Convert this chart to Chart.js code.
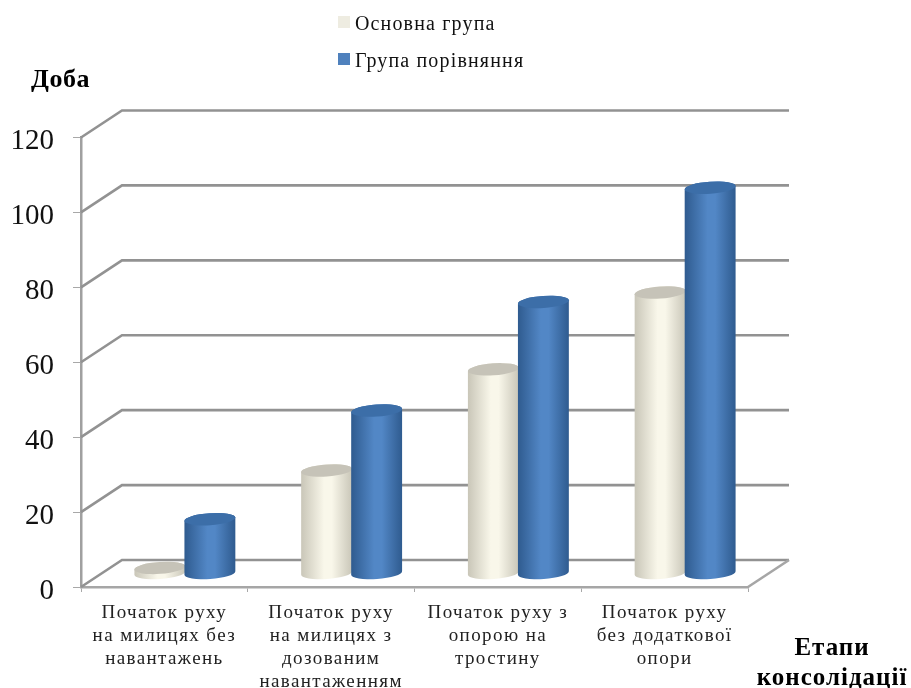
<!DOCTYPE html>
<html>
<head>
<meta charset="utf-8">
<style>
body { margin: 0; background: #fff; }
canvas { display: block; }
</style>
<script src="https://cdn.jsdelivr.net/npm/chart.js@4"></script>
</head>
<body>
<canvas id="chart" width="911" height="688"></canvas>
<script>
var categories = [
	['Початок руху', 'на милицях без', 'навантажень'],
	['Початок руху', 'на милицях з', 'дозованим', 'навантаженням'],
	['Початок руху з', 'опорою на', 'тростину'],
	['Початок руху', 'без додаткової', 'опори']
];
var seriesNames = ['Основна група', 'Група порівняння'];
var mainGroup = [1.5, 27.5, 54.5, 75];
var compareGroup = [14.5, 43.5, 72.5, 103];
var yAxisTitle = 'Доба';
var xAxisTitle = ['Етапи', 'консолідації'];

var serif = '"Liberation Serif", serif';
var depthX = 41, depthY = 27; // глибина 3D підлоги
var gridColor = '#929292';

// кольори циліндра: край, центр, верхня кришка
var shades = [
	{ edge: '#c9c6b8', mid: '#f9f7ea', cap: '#c6c3b8', legend: '#eeece1' },
	{ edge: '#2f5b8f', mid: '#5287c6', cap: '#3c6ea8', legend: '#4f81bd' }
];

function drawCylinder(ctx, bar, shade) {
	var cx = bar.x + depthX / 2;
	var top = bar.y - depthY / 2;
	var bottom = bar.base - depthY / 2;
	var rx = bar.width / 2 + 0.5, ry = 6, tilt = -0.07;
	var grad = ctx.createLinearGradient(cx - rx, 0, cx + rx, 0);
	grad.addColorStop(0, shade.edge);
	grad.addColorStop(0.45, shade.mid);
	grad.addColorStop(0.6, shade.mid);
	grad.addColorStop(1, shade.edge);
	ctx.beginPath();
	ctx.ellipse(cx, bottom, rx, ry, tilt, 0, Math.PI);
	ctx.ellipse(cx, top, rx, ry, tilt, Math.PI, Math.PI * 2);
	ctx.closePath();
	ctx.fillStyle = grad;
	ctx.fill();
	ctx.beginPath();
	ctx.ellipse(cx, top, rx, ry, tilt, 0, Math.PI * 2);
	ctx.fillStyle = shade.cap;
	ctx.fill();
}

var scene3d = {
	id: 'scene3d',
	beforeDatasetsDraw: function(chart) {
		var ctx = chart.ctx, area = chart.chartArea, y = chart.scales.y;
		ctx.save();
		ctx.strokeStyle = gridColor;
		ctx.lineWidth = 2.6;
		y.ticks.forEach(function(t) {
			var py = y.getPixelForValue(t.value);
			ctx.beginPath();
			ctx.moveTo(area.left, py);
			ctx.lineTo(area.left + depthX, py - depthY);
			ctx.lineTo(area.right + depthX, py - depthY);
			ctx.stroke();
		});
		// права грань підлоги
		ctx.strokeStyle = '#a6a6a6';
		ctx.beginPath();
		ctx.moveTo(area.right, area.bottom);
		ctx.lineTo(area.right + depthX, area.bottom - depthY);
		ctx.stroke();
		ctx.restore();
	},
	beforeDatasetDraw: function() {
		return false;
	},
	afterDatasetsDraw: function(chart) {
		var ctx = chart.ctx;
		ctx.save();
		[0, 1].forEach(function(i) {
			chart.getDatasetMeta(i).data.forEach(function(el) {
				drawCylinder(ctx, el.getProps(['x', 'y', 'base', 'width'], true), shades[i]);
			});
		});
		ctx.restore();
		// підписи категорій малюються після стовпців, вони ширші за звичайний шрифт
		ctx.letterSpacing = '1.4px';
	},
	afterDraw: function(chart) {
		var ctx = chart.ctx;
		ctx.letterSpacing = '0px';
		ctx.save();
		ctx.textBaseline = 'alphabetic';
		// легенда
		ctx.font = '20px ' + serif;
		ctx.letterSpacing = '1.15px';
		ctx.textAlign = 'left';
		seriesNames.forEach(function(name, i) {
			var top = 16 + i * 37;
			ctx.fillStyle = shades[i].legend;
			ctx.fillRect(338, top, 12, 12);
			ctx.fillStyle = '#111';
			ctx.fillText(name, 355, top + 14);
		});
		// назви осей
		ctx.fillStyle = '#000';
		ctx.letterSpacing = '0.5px';
		ctx.font = 'bold 26px ' + serif;
		ctx.fillText(yAxisTitle, 31, 87);
		ctx.textAlign = 'center';
		ctx.letterSpacing = '1px';
		ctx.font = 'bold 25px ' + serif;
		ctx.fillText(xAxisTitle[0], 832, 655);
		ctx.fillText(xAxisTitle[1], 832, 685);
		ctx.restore();
		ctx.letterSpacing = '0px';
	}
};

var myChart = new Chart(document.getElementById('chart').getContext('2d'), {
	type: 'bar',
	data: {
		labels: categories,
		datasets: [{
			label: seriesNames[0],
			data: mainGroup,
			backgroundColor: shades[0].legend,
			categoryPercentage: 0.6,
			barPercentage: 1
		}, {
			label: seriesNames[1],
			data: compareGroup,
			backgroundColor: shades[1].legend,
			categoryPercentage: 0.6,
			barPercentage: 1
		}]
	},
	plugins: [scene3d],
	options: {
		responsive: false,
		animation: false,
		layout: { padding: { left: 0, right: 163, top: 137.5, bottom: 0 } },
		plugins: {
			legend: { display: false },
			tooltip: { enabled: false }
		},
		scales: {
			y: {
				min: 0,
				max: 120,
				afterFit: function(s) { s.width = 81; },
				grid: { drawOnChartArea: false, tickLength: 8, color: '#a8a8a8' },
				border: { color: '#a0a0a0', width: 2.5 },
				ticks: {
					stepSize: 20,
					padding: 19,
					labelOffset: 4,
					color: '#111',
					font: { family: 'Liberation Serif', size: 29 }
				}
			},
			x: {
				afterFit: function(s) { s.height = 101; },
				grid: { drawOnChartArea: false, tickLength: 5, color: '#a8a8a8' },
				border: { color: '#a6a6a6', width: 2.5 },
				ticks: {
					z: 1,
					padding: 10,
					maxRotation: 0,
					autoSkip: false,
					color: '#222',
					font: { family: 'Liberation Serif', size: 19, lineHeight: 1.2 }
				}
			}
		}
	}
});
</script>
</body>
</html>
